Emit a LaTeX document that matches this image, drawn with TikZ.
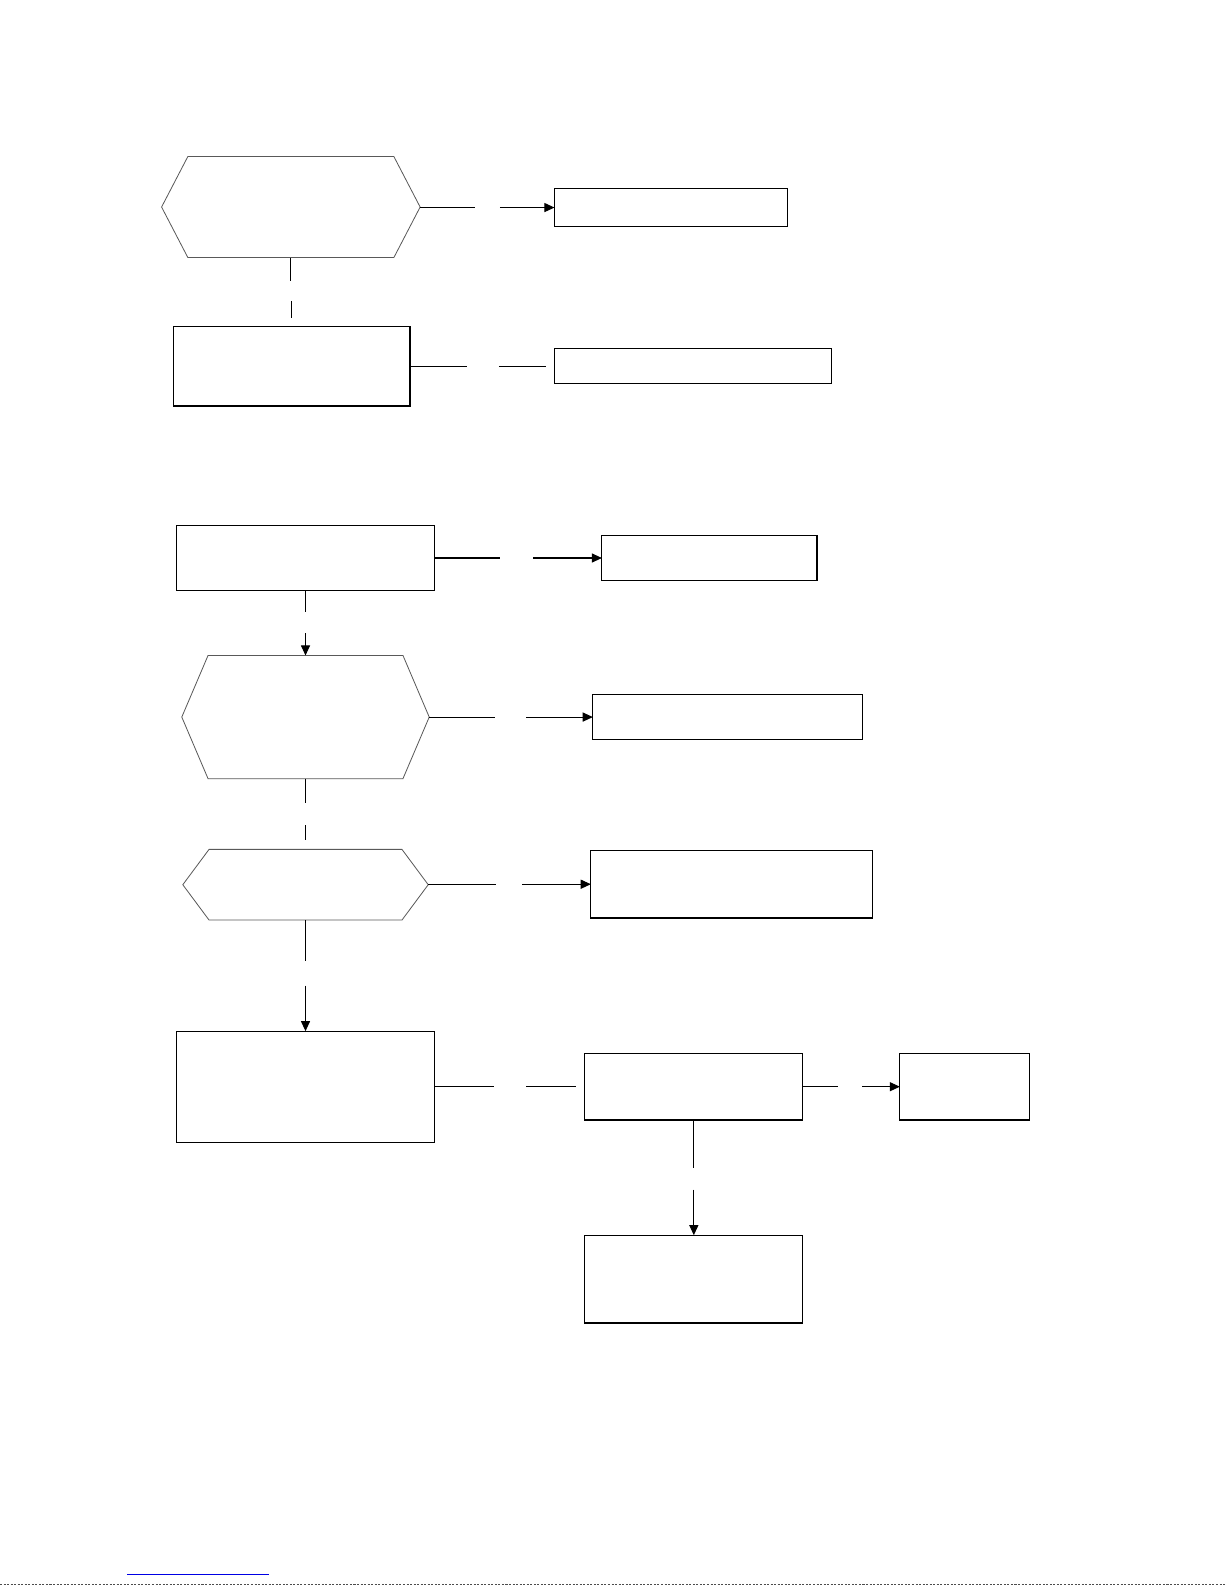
\documentclass[tikz,border=0pt]{standalone}
\usetikzlibrary{arrows.meta}
\begin{document}
\begin{tikzpicture}[x=1pt,y=-1pt,
  box/.style={draw=black,line width=1.1pt,inner sep=0pt,outer sep=0pt},
  hexbase/.style={draw=none,inner sep=0pt,outer sep=0pt},
  hexline/.style={draw=black!65,line width=0.8pt},
  conn/.style={draw=black,line width=1pt},
  arr/.style={conn,-{Triangle[length=10pt,width=9pt]}}]
\useasboundingbox (0,0) rectangle (1213,1569.4);
\fill[white] (0,0) rectangle (1213,1569.4);
% nodes
\node[hexbase,minimum width=256pt,minimum height=100pt] (h1) at (288,205) {};
\node[box,minimum width=231pt,minimum height=37pt] (b1) at (664.5,205.5) {};
\node[box,minimum width=234pt,minimum height=79pt] (b2) at (289,362.5) {};
\node[box,minimum width=274pt,minimum height=35pt] (b3) at (686,362.5) {};
\node[box,minimum width=255pt,minimum height=65pt] (b4) at (302.5,552.5) {};
\node[box,minimum width=213pt,minimum height=45pt] (b5) at (702.5,552.5) {};
\node[hexbase,minimum width=245pt,minimum height=122pt] (h2) at (302.5,710) {};
\node[box,minimum width=267pt,minimum height=44pt] (b6) at (720.5,710) {};
\node[hexbase,minimum width=243pt,minimum height=70pt] (h3) at (302.5,876) {};
\node[box,minimum width=279pt,minimum height=67pt] (b7) at (724.5,875.5) {};
\node[box,minimum width=255pt,minimum height=110pt] (b8) at (302.5,1076) {};
\node[box,minimum width=216pt,minimum height=66pt] (b9) at (687,1076) {};
\node[box,minimum width=128pt,minimum height=66pt] (b10) at (955,1076) {};
\node[box,minimum width=216pt,minimum height=87pt] (b11) at (687,1266.5) {};
% hexagon outlines
\foreach \h in {h1,h2,h3}{
  \draw[hexline] (\h.west) -- ([xshift=26pt]\h.north west) -- ([xshift=-26pt]\h.north east)
    -- (\h.east) -- ([xshift=-26pt]\h.south east) -- ([xshift=26pt]\h.south west) -- cycle;
}
% connectors
\draw[conn] (h1.east) -- ++(54,0);
\draw[arr] ([xshift=-54pt]b1.west) -- (b1.west);
\draw[conn] (h1.south) -- ++(0,23);
\draw[conn] ([yshift=25pt]b2.north) -- ([yshift=8pt]b2.north);
\draw[conn] (b2.east) -- ++(56,0);
\draw[conn] ([xshift=-55pt]b3.west) -- ([xshift=-8pt]b3.west);
\draw[conn] (b4.east) -- ++(65,0);
\draw[arr] ([xshift=-68pt]b5.west) -- (b5.west);
\draw[conn] (b4.south) -- ++(0,21);
\draw[arr] ([yshift=22pt]h2.north) -- (h2.north);
\draw[conn] (h2.east) -- ++(65,0);
\draw[arr] ([xshift=-66pt]b6.west) -- (b6.west);
\draw[conn] (h2.south) -- ++(0,24);
\draw[conn] ([yshift=24pt]h3.north) -- ([yshift=9pt]h3.north);
\draw[conn] (h3.east) -- ++(67,0);
\draw[arr] ([xshift=-68pt]b7.west) -- (b7.west);
\draw[conn] (h3.south) -- ++(0,41);
\draw[arr] ([yshift=45pt]b8.north) -- (b8.north);
\draw[conn] (b8.east) -- ++(59,0);
\draw[conn] ([xshift=-58pt]b9.west) -- ([xshift=-9pt]b9.west);
\draw[conn] (b9.east) -- ++(35,0);
\draw[arr] ([xshift=-37pt]b10.west) -- (b10.west);
\draw[conn] (b9.south) -- ++(0,47);
\draw[arr] ([yshift=45pt]b11.north) -- (b11.north);
% page footer marks
\draw[blue!90!black,line width=1.4pt] (126,1559) -- (266,1559);
\draw[black!70,line width=1pt,dash pattern=on 2pt off 1.5pt] (0,1568.6) -- (1213,1568.6);
\end{tikzpicture}
\end{document}
